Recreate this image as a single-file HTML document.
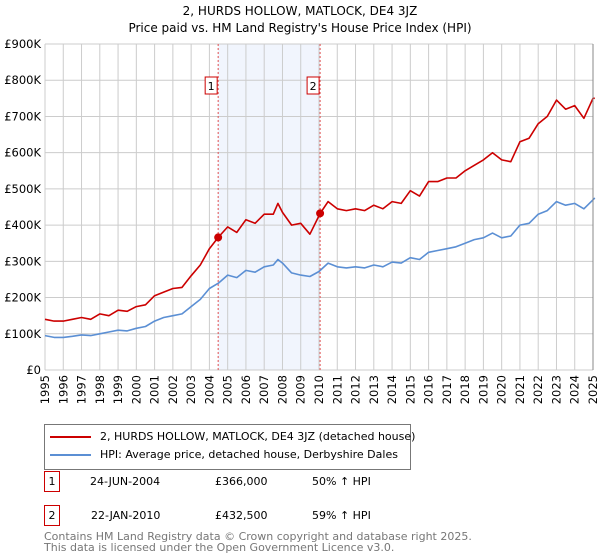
<!DOCTYPE html>
<html><head><meta charset="utf-8"><style>
body{margin:0;background:#fff;font-family:"DejaVu Sans","Liberation Sans",sans-serif;}
#wrap{position:relative;width:600px;height:560px;overflow:hidden}
.t{position:absolute;font-size:11px;color:#000;white-space:nowrap;line-height:13px}
.box{position:absolute;border:1px solid #c00;width:14px;height:19px;text-align:center;line-height:19px;font-size:11px}
</style></head><body><div id="wrap">
<svg id="svg" width="600" height="420" style="position:absolute;left:0;top:0"></svg>
<div style="position:absolute;left:44px;top:424px;width:365px;height:44px;border:1px solid #777;background:#fff">
 <div><div style="position:absolute;left:5px;top:11px;width:41px;height:2px;background:#c00"></div><div class="t" style="left:55px;top:5px">2, HURDS HOLLOW, MATLOCK, DE4 3JZ (detached house)</div></div>
 <div><div style="position:absolute;left:5px;top:29px;width:41px;height:2px;background:#5b8fd4"></div><div class="t" style="left:55px;top:23px">HPI: Average price, detached house, Derbyshire Dales</div></div>
</div>
<div>
 <div class="box" style="left:44px;top:471px">1</div>
 <div class="t" style="left:90px;top:475px">24-JUN-2004</div>
 <div class="t" style="left:215px;top:475px">£366,000</div>
 <div class="t" style="left:312px;top:475px">50% ↑ HPI</div>
</div>
<div>
 <div class="box" style="left:44px;top:505px">2</div>
 <div class="t" style="left:91px;top:509px">22-JAN-2010</div>
 <div class="t" style="left:215px;top:509px">£432,500</div>
 <div class="t" style="left:312px;top:509px">59% ↑ HPI</div>
</div>
<div class="t" style="left:44px;top:531px;color:#777;line-height:11px">Contains HM Land Registry data © Crown copyright and database right 2025.<br>This data is licensed under the Open Government Licence v3.0.</div>
</div>
<script>
const hpiYears=[1995,1995.5,1996,1996.5,1997,1997.5,1998,1998.5,1999,1999.5,2000,2000.5,2001,2001.5,2002,2002.5,2003,2003.5,2004,2004.5,2005,2005.5,2006,2006.5,2007,2007.5,2007.75,2008,2008.5,2009,2009.5,2010,2010.5,2011,2011.5,2012,2012.5,2013,2013.5,2014,2014.5,2015,2015.5,2016,2016.5,2017,2017.5,2018,2018.5,2019,2019.5,2020,2020.5,2021,2021.5,2022,2022.5,2023,2023.5,2024,2024.5,2025,2025.1];
const hpiValues=[95,90,90,93,97,95,100,105,110,108,115,120,135,145,150,155,175,195,225,240,262,255,275,270,285,290,305,295,268,262,258,272,295,285,282,285,282,290,285,298,295,310,305,325,330,335,340,350,360,365,378,365,370,400,405,430,440,465,455,460,445,470,475];
const priceYears=[1995,1995.5,1996,1996.5,1997,1997.5,1998,1998.5,1999,1999.5,2000,2000.5,2001,2001.5,2002,2002.5,2003,2003.5,2004,2004.48,2005,2005.5,2006,2006.5,2007,2007.5,2007.75,2008,2008.5,2009,2009.5,2010.06,2010.5,2011,2011.5,2012,2012.5,2013,2013.5,2014,2014.5,2015,2015.5,2016,2016.5,2017,2017.5,2018,2018.5,2019,2019.5,2020,2020.5,2021,2021.5,2022,2022.5,2023,2023.5,2024,2024.5,2025,2025.1];
const priceValues=[140,135,135,140,145,140,155,150,165,162,175,180,205,215,225,228,260,290,335,366,395,380,415,405,430,430,460,435,400,405,375,432,465,445,440,445,440,455,445,465,460,495,480,520,520,530,530,550,565,580,600,580,575,630,640,680,700,745,720,730,695,750,750];
const saleYears=[2004.48,2010.06];
const saleValues=[366,432.5];
const saleLabels=["1","2"];
const yTicks=[0,100,200,300,400,500,600,700,800,900];
const yTickLabels=["£0","£100K","£200K","£300K","£400K","£500K","£600K","£700K","£800K","£900K"];
const xTicks=[1995,1996,1997,1998,1999,2000,2001,2002,2003,2004,2005,2006,2007,2008,2009,2010,2011,2012,2013,2014,2015,2016,2017,2018,2019,2020,2021,2022,2023,2024,2025];

const X0=45,X1=593,Y0=370,Y1=44;
const xs=y=>X0+(y-1995)/30*(X1-X0);
const ys=v=>Y0-v/900*(Y0-Y1);
const svg=document.getElementById('svg');const NS='http://www.w3.org/2000/svg';
function mk(tag,attrs,parent){const e=document.createElementNS(NS,tag);for(const k in attrs)e.setAttribute(k,attrs[k]);(parent||svg).appendChild(e);return e;}
let t=mk('text',{x:300,y:15,'text-anchor':'middle','font-size':12});t.textContent='2, HURDS HOLLOW, MATLOCK, DE4 3JZ';


t=mk('text',{x:300,y:32,'text-anchor':'middle','font-size':12});t.textContent="Price paid vs. HM Land Registry's House Price Index (HPI)";


let r=mk('rect',{x:xs(saleYears[0]),y:Y1,width:xs(saleYears[1])-xs(saleYears[0]),height:Y0-Y1,fill:'#eef3fc',opacity:0.8});


yTicks.forEach((v,i)=>{
 const l=mk('line',{x1:X0,x2:X1,y1:ys(v),y2:ys(v),stroke:'#ccc'});
 
 
 const tx=mk('text',{x:X0-4,y:ys(v)+4,'text-anchor':'end','font-size':11.5});tx.textContent=yTickLabels[i];
 
 
});
xTicks.forEach(y=>{
 const l=mk('line',{x1:xs(y),x2:xs(y),y1:Y1,y2:Y0,stroke:'#ccc'});
 
 
 const tx=mk('text',{transform:`translate(${xs(y)+4},${Y0+5}) rotate(-90)`,'text-anchor':'end','font-size':11.5});tx.textContent=y;
 
 
});
saleYears.forEach((y,i)=>{
 const l=mk('line',{x1:xs(y),x2:xs(y),y1:Y1,y2:Y0,stroke:'#e05050','stroke-dasharray':'2,2'});
 
 
 const b=mk('rect',{x:xs(y)-13,y:77,width:12,height:17,fill:'#fff',stroke:'#c00'});
 
 
 const tx=mk('text',{x:xs(y)-7,y:90,'text-anchor':'middle','font-size':11});tx.textContent=saleLabels[i];
 
 
});
function path(xsArr,vs,color,name){
 const d=xsArr.map((y,i)=>(i?'L':'M')+xs(y).toFixed(1)+','+ys(vs[i]).toFixed(1)).join('');
 const p=mk('path',{d:d,fill:'none',stroke:color,'stroke-width':1.6,'stroke-linejoin':'round'});
 
 
}
path(hpiYears,hpiValues,'#5b8fd4','hpi-line');
path(priceYears,priceValues,'#c00','price-line');
saleYears.forEach((y,i)=>{
 const c=mk('circle',{cx:xs(y),cy:ys(saleValues[i]),r:4,fill:'#c00'});
 
 
});
const ax=mk('line',{x1:X1,x2:X1,y1:Y1,y2:Y0,stroke:'#888'});


</script></body></html>
